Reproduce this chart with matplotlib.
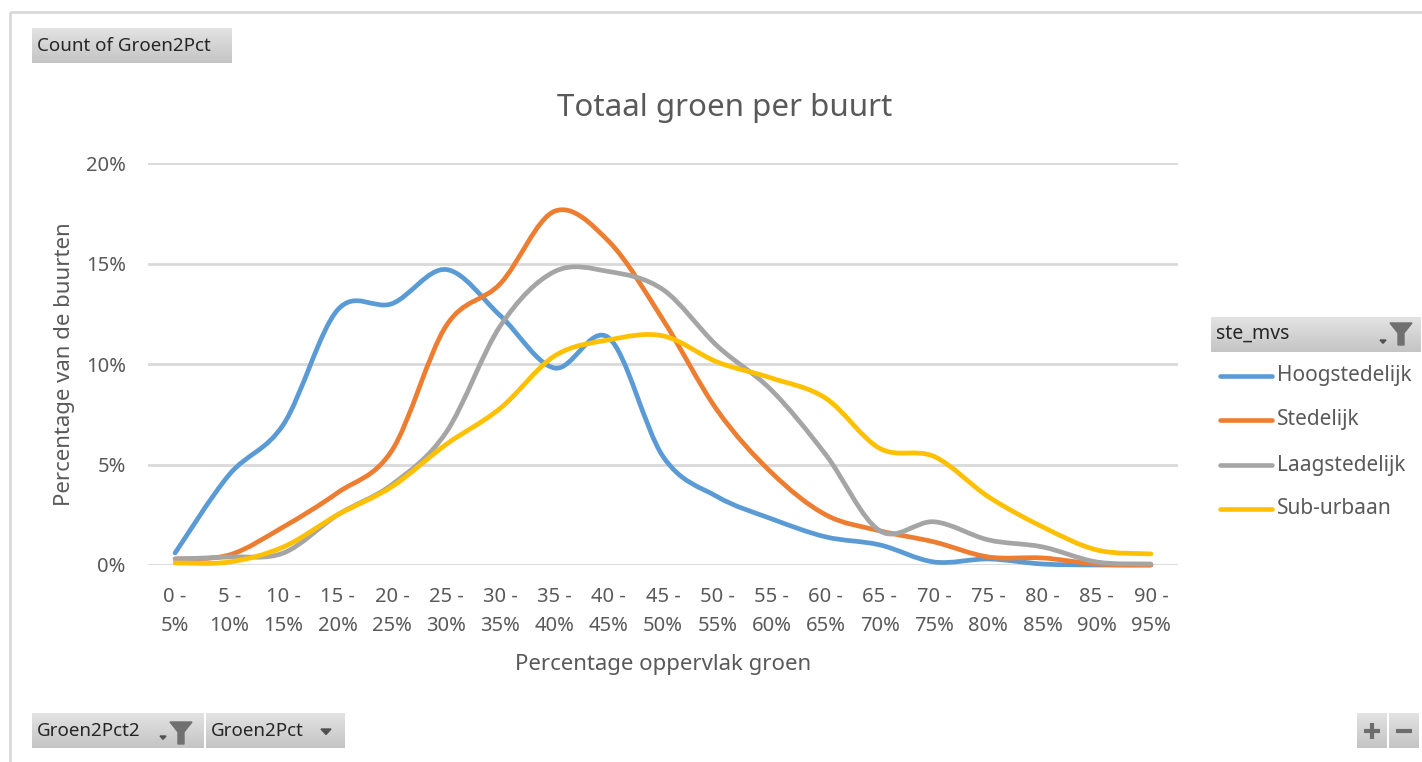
import numpy as np
import matplotlib
matplotlib.use("Agg")
import matplotlib.pyplot as plt
from matplotlib.path import Path
from matplotlib.patches import PathPatch, Rectangle, Polygon

plt.rcParams['font.family'] = ['Noto Sans', 'DejaVu Sans']

# ---------------- data ----------------
categories = ["0 -\n5%", "5 -\n10%", "10 -\n15%", "15 -\n20%", "20 -\n25%", "25 -\n30%",
              "30 -\n35%", "35 -\n40%", "40 -\n45%", "45 -\n50%", "50 -\n55%", "55 -\n60%",
              "60 -\n65%", "65 -\n70%", "70 -\n75%", "75 -\n80%", "80 -\n85%", "85 -\n90%",
              "90 -\n95%"]
series_names = ["Hoogstedelijk", "Stedelijk", "Laagstedelijk", "Sub-urbaan"]
hoogstedelijk = [0.6, 4.5, 7.0, 12.7, 13.0, 14.7, 12.4, 9.8, 11.3, 5.4, 3.4, 2.3, 1.4, 1.0, 0.15, 0.3, 0.05, 0.0, 0.0]
stedelijk     = [0.3, 0.5, 1.9, 3.6, 5.7, 11.9, 14.0, 17.6, 16.1, 12.2, 7.7, 4.6, 2.5, 1.7, 1.15, 0.4, 0.35, 0.05, 0.0]
laagstedelijk = [0.3, 0.4, 0.6, 2.5, 4.0, 6.6, 11.9, 14.6, 14.6, 13.7, 10.9, 8.7, 5.5, 1.7, 2.15, 1.25, 0.9, 0.15, 0.05]
suburbaan     = [0.1, 0.15, 0.9, 2.5, 3.9, 6.0, 7.8, 10.4, 11.2, 11.4, 10.1, 9.3, 8.3, 5.8, 5.4, 3.4, 1.9, 0.75, 0.55]
series_values = [hoogstedelijk, stedelijk, laagstedelijk, suburbaan]
colors = ["#5b9bd5", "#ed7d31", "#a5a5a5", "#ffc000"]
ytick_values = [0, 5, 10, 15, 20]
ytick_labels = ["0%", "5%", "10%", "15%", "20%"]

W, H = 1422, 762
fig = plt.figure(figsize=(W / 100, H / 100), dpi=100)
fig.patch.set_facecolor("white")

TXT = "#595959"
BTN = "#262626"

# overlay axes in pixel coordinates
ov = fig.add_axes([0, 0, 1, 1])
ov.set_axis_off()
ov.patch.set_alpha(0)


def grad_box(x0, y0, x1, y1):
    g = np.linspace(0, 1, 50)[:, None]
    top = np.array([0.89, 0.89, 0.89])
    bot = np.array([0.77, 0.77, 0.77])
    img = (top[None, None, :] * (1 - g[..., None]) + bot[None, None, :] * g[..., None])
    ov.imshow(img, extent=(x0, x1, y1, y0), origin="upper", aspect="auto", zorder=1,
              interpolation="bilinear")


def funnel(x, y, s=1.0, color="#707070"):
    pts = [(x, y), (x + 22 * s, y), (x + 14 * s, y + 10 * s), (x + 14 * s, y + 22 * s),
           (x + 8 * s, y + 22 * s), (x + 8 * s, y + 10 * s)]
    ov.add_patch(Polygon(pts, closed=True, color=color, zorder=3))


def dd_arrow(x, y, w=8, color="#505050"):
    ov.add_patch(Polygon([(x, y), (x + w, y), (x + w / 2, y + w * 0.55)], closed=True,
                         color=color, zorder=3))


# outer border
ov.add_patch(Rectangle((10, 12), 1430, 780, fill=False, edgecolor="#d9d9d9", linewidth=2, zorder=0))

# top-left button
grad_box(32, 28, 232, 63)
ov.text(37, 46, "Count of Groen2Pct", fontsize=13.5, color=BTN, va="center", ha="left", zorder=4)

# bottom buttons
grad_box(32, 713, 204, 748)
ov.text(37, 731, "Groen2Pct2", fontsize=13.5, color=BTN, va="center", ha="left", zorder=4)
dd_arrow(160, 736, w=6)
funnel(170, 722, s=1.0)
grad_box(206, 713, 345, 748)
ov.text(211, 731, "Groen2Pct", fontsize=13.5, color=BTN, va="center", ha="left", zorder=4)
dd_arrow(321, 729, w=10)

# +/- buttons
grad_box(1357, 713, 1387, 748)
grad_box(1389, 713, 1419, 748)
ov.plot([1364, 1380], [731, 731], color="#6d6d6d", lw=3, solid_capstyle="butt", zorder=4)
ov.plot([1372, 1372], [723, 739], color="#6d6d6d", lw=3, solid_capstyle="butt", zorder=4)
ov.plot([1396, 1412], [731, 731], color="#6d6d6d", lw=3, solid_capstyle="butt", zorder=4)

# legend header
grad_box(1211, 317, 1421, 352)
ov.text(1216, 334, "ste_mvs", fontsize=14, color=BTN, va="center", ha="left", zorder=4)
dd_arrow(1380, 340, w=6)
funnel(1390, 323, s=1.0)

# legend entries
leg_y = [376, 420, 465, 509]
for name, c, ly in zip(series_names, colors, leg_y):
    ov.plot([1220, 1272], [ly, ly], color=c, lw=3.3, solid_capstyle="round", zorder=4)
    ov.text(1277, ly, name, fontsize=15, color=TXT, va="center", ha="left", zorder=4)

# title
ov.text(725, 108, "Totaal groen per buurt", fontsize=22.5, color=TXT, ha="center", va="center", zorder=4)

ov.set_xlim(0, W)
ov.set_ylim(H, 0)

# ---------------- main chart ----------------
left, right, bottom, top = 148, 1178, 565, 163
ax = fig.add_axes([left / W, 1 - bottom / H, (right - left) / W, (bottom - top) / H])
ax.patch.set_alpha(0)
n = len(categories)
ax.set_xlim(-0.5, n - 0.5)
ax.set_ylim(0, 20)
for s in ax.spines.values():
    s.set_visible(False)
ax.set_yticks(ytick_values)
ax.set_yticklabels(ytick_labels)
ax.set_xticks(range(n))
ax.set_xticklabels(categories, linespacing=1.6)
ax.tick_params(axis="both", length=0, labelsize=14.5, labelcolor=TXT)
ax.tick_params(axis="y", pad=16)
ax.tick_params(axis="x", pad=16)
ax.yaxis.grid(True, color="#d9d9d9", linewidth=2)
ax.set_axisbelow(True)
ax.set_xlabel("Percentage oppervlak groen", fontsize=16, color=TXT, labelpad=13)
ax.set_ylabel("Percentage van de buurten", fontsize=16, color=TXT, labelpad=8)


def smooth_path(xs, ys):
    P = np.column_stack([xs, ys]).astype(float)
    m = len(P)
    verts = [P[0]]
    codes = [Path.MOVETO]
    for i in range(m - 1):
        p0 = P[i - 1] if i > 0 else P[i]
        p1 = P[i]
        p2 = P[i + 1]
        p3 = P[i + 2] if i + 2 < m else P[i + 1]
        c1 = p1 + (p2 - p0) / 6.0
        c2 = p2 - (p3 - p1) / 6.0
        verts += [c1, c2, p2]
        codes += [Path.CURVE4] * 3
    return Path(verts, codes)


for vals, c in zip(series_values, colors):
    pth = smooth_path(np.arange(n), vals)
    ax.add_patch(PathPatch(pth, facecolor="none", edgecolor=c, linewidth=3.4,
                           capstyle="round", joinstyle="round", clip_on=False, zorder=3))

fig.savefig("out.png", dpi=100)
